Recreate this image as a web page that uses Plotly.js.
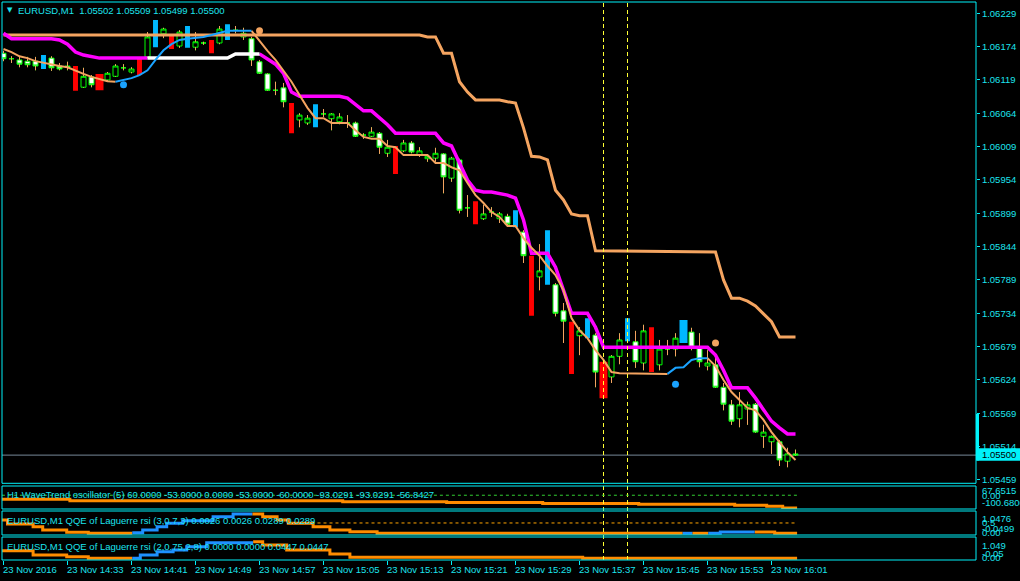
<!DOCTYPE html>
<html><head><meta charset="utf-8">
<script src="https://cdn.plot.ly/plotly-3.0.1.min.js"></script>
<style>html,body{margin:0;padding:0;background:#000;}#chart{width:1020px;height:581px;}</style>
</head><body><div id="chart"></div>
<script>
// ================= DATA =================
// minutes after 14:25 (bar index), EURUSD M1
const candleMin = [0,1,2,3,4,6,7,8,10,11,
 13,14,15,16,18,20,22,24,25,27,
 29,30,31,32,33,34,35,37,38,40,
 41,42,43,44,45,46,47,48,50,51,
 52,53,54,55,56,57,58,60,61,62,
 63,65,67,69,70,72,74,76,77,79,
 80,82,83,84,86,87,88,89,90,91,
 92,93,94,95,96,97,98,99];
const candleOpen = [1.06163,1.06154,1.06152,1.06150,1.06150,1.06155,1.06142,1.06142,1.06107,1.06124,
 1.06119,1.06125,1.06139,1.06132,1.06157,1.06195,1.06175,1.06173,1.06180,1.06180,
 1.06201,1.06190,1.06187,1.06149,1.06129,1.06102,1.06106,1.06053,1.06048,1.06063,
 1.06055,1.06050,1.06048,1.06048,1.06028,1.06026,1.06031,1.05998,1.06002,1.06015,
 1.05995,1.05989,1.05990,1.05997,1.05957,1.05987,1.05908,1.05890,1.05901,1.05890,
 1.05894,1.05868,1.05794,1.05781,1.05738,1.05697,1.05698,1.05629,1.05663,1.05687,
 1.05652,1.05649,1.05675,1.05675,1.05703,1.05677,1.05647,1.05649,1.05612,1.05583,
 1.05560,1.05576,1.05584,1.05531,1.05522,1.05522,1.05490,1.05502];
const candleHigh = [1.06167,1.06158,1.06157,1.06157,1.06157,1.06158,1.06147,1.06149,1.06139,1.06127,
 1.06132,1.06145,1.06145,1.06140,1.06198,1.06205,1.06201,1.06198,1.06182,1.06208,
 1.06208,1.06205,1.06190,1.06152,1.06130,1.06116,1.06114,1.06064,1.06061,1.06071,
 1.06064,1.06064,1.06061,1.06050,1.06031,1.06041,1.06033,1.06020,1.06020,1.06018,
 1.06008,1.05995,1.06007,1.05998,1.05992,1.05989,1.05929,1.05913,1.05909,1.05901,
 1.05898,1.05871,1.05848,1.05784,1.05751,1.05711,1.05701,1.05665,1.05701,1.05705,
 1.05715,1.05690,1.05690,1.05701,1.05710,1.05701,1.05673,1.05662,1.05619,1.05591,
 1.05604,1.05588,1.05586,1.05550,1.05532,1.05525,1.05512,1.05509];
const candleLow = [1.06150,1.06147,1.06140,1.06140,1.06135,1.06134,1.06135,1.06135,1.06106,1.06107,
 1.06116,1.06124,1.06135,1.06130,1.06155,1.06188,1.06172,1.06168,1.06177,1.06178,
 1.06196,1.06185,1.06142,1.06129,1.06101,1.06094,1.06074,1.06041,1.06045,1.06058,
 1.06036,1.06046,1.06040,1.06025,1.06022,1.06025,1.05997,1.05992,1.06000,1.05998,
 1.05992,1.05984,1.05984,1.05932,1.05951,1.05899,1.05893,1.05888,1.05893,1.05883,
 1.05878,1.05817,1.05772,1.05729,1.05685,1.05665,1.05612,1.05619,1.05650,1.05644,
 1.05640,1.05640,1.05665,1.05663,1.05673,1.05645,1.05640,1.05611,1.05574,1.05550,
 1.05546,1.05550,1.05537,1.05512,1.05502,1.05482,1.05480,1.05499];
const candleClose = [1.06154,1.06154,1.06145,1.06144,1.06142,1.06139,1.06137,1.06140,1.06125,1.06111,
 1.06130,1.06142,1.06139,1.06137,1.06190,1.06203,1.06198,1.06182,1.06180,1.06203,
 1.06201,1.06196,1.06152,1.06130,1.06102,1.06102,1.06083,1.06061,1.06056,1.06063,
 1.06063,1.06058,1.06048,1.06026,1.06028,1.06033,1.06008,1.06008,1.06015,1.06000,
 1.06002,1.05993,1.05998,1.05959,1.05990,1.05904,1.05908,1.05898,1.05901,1.05898,
 1.05881,1.05829,1.05804,1.05734,1.05721,1.05705,1.05637,1.05663,1.05690,1.05654,
 1.05705,1.05675,1.05675,1.05693,1.05677,1.05654,1.05652,1.05612,1.05584,1.05556,
 1.05583,1.05583,1.05538,1.05538,1.05531,1.05492,1.05502,1.05500];

// highlighted bars (red / blue blocks)
const redMin    = [9,12,17,21,26,36,49,59,66,71,75,81];
const redTop    = [1.06142,1.06129,1.06155,1.06193,1.06185,1.06081,1.06010,1.05919,1.05829,1.05720,1.05654,1.05711];
const redBottom = [1.06101,1.06102,1.06127,1.06170,1.06163,1.06031,1.05964,1.05881,1.05730,1.05634,1.05594,1.05637];
const blueMin    = [5,19,23,28,39,64,68,73,78,85];
const blueTop    = [1.06160,1.06218,1.06208,1.06211,1.06079,1.05904,1.05871,1.05726,1.05726,1.05723];
const blueBottom = [1.06137,1.06173,1.06172,1.06185,1.06041,1.05876,1.05781,1.05693,1.05688,1.05685];

// slow (thick sandy) line
const slowMin = [0,52,53,54,55,56,57,58,59,62,63,64,65,66,67,68,69,70,71,72,73,74,89,90,91,92,93,94,95,96,97,99];
const slowVal = [1.06193,1.06193,1.06190,1.06190,1.06163,1.06163,1.06116,1.06099,1.06086,1.06086,1.06083,1.06081,1.06040,1.05993,1.05992,1.05987,1.05937,1.05921,1.05898,1.05895,1.05895,1.05837,1.05835,1.05789,1.05759,1.05759,1.05754,1.05746,1.05733,1.05720,1.05695,1.05695];

// magenta / white trailing line
const magMin = [0,1,6,7,8,9,10,11,12,18,25,32,33,34,35,36,37,42,43,45,46,47,48,49,54,55,56,57,58,59,60,61,62,63,64,65,66,68,69,70,71,73,74,75,88,89,90,91,93,94,95,96,97,98,99];
const magVal = [1.06196,1.06187,1.06187,1.06185,1.06178,1.06165,1.06160,1.06157,1.06155,1.06155,null,1.06162,1.06153,1.06145,1.06130,1.06099,1.06092,1.06092,1.06089,1.06068,1.06068,1.06056,1.06045,1.06031,1.06031,1.06015,1.06010,1.05982,1.05954,1.05937,1.05934,1.05934,1.05931,1.05929,1.05924,1.05888,1.05833,1.05833,1.05810,1.05772,1.05734,1.05734,1.05711,1.05678,1.05678,1.05665,1.05640,1.05611,1.05611,1.05594,1.05574,1.05556,1.05545,1.05535,1.05535];
const whiteMin = [18,28,29,32];
const whiteVal = [1.06155,1.06155,1.06162,1.06162];

// fast line (sandy when falling, blue when rising)
const fastMin = [0,1,2,3,4,5,6,7,8,9,10,11,12,13,14,22,
 31,32,33,34,35,36,37,38,39,40,41,43,44,45,46,47,48,49,50,53,54,55,56,57,58,59,60,61,62,63,64,65,66,67,68,69,70,71,72,73,74,75,76,77,83,85,
 88,89,90,91,92,93,94,95,96,97,98,99];
const fastVal = [1.06170,1.06165,1.06158,1.06155,1.06150,1.06147,1.06145,1.06142,1.06140,1.06134,1.06129,1.06124,1.06121,1.06117,1.06116,null,
 1.06200,1.06183,1.06167,1.06152,1.06135,1.06116,1.06094,1.06073,1.06056,1.06056,1.06048,1.06048,1.06036,1.06025,1.06022,1.06022,1.06010,1.06008,1.05995,1.05995,1.05982,1.05982,1.05975,1.05970,1.05949,1.05929,1.05916,1.05901,1.05893,1.05878,1.05878,1.05858,1.05842,1.05829,1.05812,1.05797,1.05772,1.05726,1.05706,1.05693,1.05673,1.05657,1.05637,1.05635,1.05634,null,
 1.05660,1.05647,1.05624,1.05604,1.05591,1.05578,1.05574,1.05558,1.05538,1.05522,1.05505,1.05492];
const fastUpMin = [14,15,16,17,18,19,20,21,22,23,24,25,26,27,28,31,50,83,84,85,86,87,88];
const fastUpVal = [1.06116,1.06119,1.06122,1.06127,1.06135,1.06152,1.06168,1.06178,1.06185,1.06187,1.06188,1.06190,1.06193,1.06196,1.06200,1.06200,null,1.05634,1.05644,1.05645,1.05657,1.05660,1.05660];

// signal dots
const sellDotMin = [32,89];
const sellDotVal = [1.06200,1.05685];
const buyDotMin = [15,84];
const buyDotVal = [1.06111,1.05617];

// WaveTrend (H1) sub-window
const wtMin = [-0.2,8.3,42.4,55.4,67.4,79.4,91.4,95.4,97.4,99.2];
const wtVal = [-29.7,-40.0,-47.3,-53.0,-60.0,-66.3,-73.6,-81.0,-93.0,-93.0];
const wtZero = 0;

// QQE of Laguerre rsi (3,0.7,3)
const q1DownMin = [-0.2,0.5,3.7,4.9,7.9,10.6,16.1,16.1,31.1,32.4,34.2,35.6,38.7,40.8,43.3,46.7,84.9,84.9,86.1,88.1,88.1,93.9,96.4,99.2];
const q1DownVal = [0.636,0.453,0.330,0.179,0.074,0.028,0.028,null,0.910,0.787,0.636,0.485,0.330,0.179,0.101,0.028,0.028,null,0.028,0.028,null,0.087,0.028,0.028];
const q1UpMin = [16.1,17.4,19.2,20.4,22.4,26.2,28.7,31.1,31.1,84.9,86.1,86.1,88.1,89.6,93.9];
const q1UpVal = [0.055,0.179,0.330,0.485,0.604,0.787,0.910,0.910,null,0.028,0.028,null,0.028,0.087,0.087];
const q1Level = 0.5;

// QQE of Laguerre rsi (2,0.75,2,8)
const q2DownMin = [-0.2,3.7,7.9,10.6,16.1,16.1,31.2,32.4,35.4,40.8,43.3,72.4,99.2];
const q2DownVal = [0.394,0.189,0.108,0.031,0.031,null,0.824,0.667,0.428,0.237,0.079,0.031,0.031];
const q2UpMin = [16.1,17.1,19.2,21.2,22.9,25.4,31.2];
const q2UpVal = [0.031,0.189,0.347,0.428,0.586,0.777,0.777];

// markers / labels
const vLineMin = [75,78];
const priceTicks = [1.06229,1.06174,1.06119,1.06064,1.06009,1.05954,1.05899,1.05844,1.05789,1.05734,1.05679,1.05624,1.05569,1.05514,1.05459];
const timeTickMin = [0,8,16,24,32,40,48,56,64,72,80,88,96];
const timeTickText = ['23 Nov 2016','23 Nov 14:33','23 Nov 14:41','23 Nov 14:49','23 Nov 14:57','23 Nov 15:05','23 Nov 15:13','23 Nov 15:21','23 Nov 15:29','23 Nov 15:37','23 Nov 15:45','23 Nov 15:53','23 Nov 16:01'];
const headerText = 'EURUSD,M1\u00a0\u00a01.05502 1.05509 1.05499 1.05500';
const wtTitle = 'H1 WaveTrend oscillator (5) 60.0000 -53.0000 0.0000 -53.0000 -60.0000 -93.0291 -93.0291 -56.8427';
const q1Title = 'EURUSD,M1 QQE of Laguerre rsi (3,0.7,3) 0.0026 0.0026 0.0289 0.0289';
const q2Title = 'EURUSD,M1 QQE of Laguerre rsi (2,0.75,2,8) 0.0000 0.0000 0.0447 0.0447';
const wtLabels = ['67.6515','0.00','-100.6806'];
const q1Labels = ['1.0476','0.5','-0.0499','0.00'];
const q2Labels = ['1.049','-0.05','0.00'];
const wtRange = [-100.6806, 67.6515];
const q1Range = [-0.0499, 1.0476];
const q2Range = [-0.05, 1.049];

// ================= STYLE / LAYOUT =================
const CYAN = '#00F2FA';
const TXT = '#1CE4EE';
const SANDY = '#F4A460';
const FONT = '"Liberation Sans", Arial, sans-serif';
const L = 2, R = 976, T = 2, B = 560;           // plot area in pixels
const px2x = p => (p - L) / (R - L);
const py2y = p => (B - p) / (B - T);
const xRange = [-0.1875, 121.5625];
const yMainRange = [1.054535, 1.062476];

// wick segments built from the OHLC arrays
const wickX = [], wickY = [];
candleMin.forEach((m, i) => {
  const top = Math.max(candleOpen[i], candleClose[i]);
  const bot = Math.min(candleOpen[i], candleClose[i]);
  wickX.push(m, m, null, m, m, null);
  wickY.push(candleHigh[i], top, null, bot, candleLow[i], null);
});
const wide = new Set([12, 75, 85]);

const traces = [
  {type:'bar', x:redMin, base:redBottom, y:redTop.map((t,i)=>t-redBottom[i]),
   width:redMin.map(m=>wide.has(m)?1.0:0.62), marker:{color:'#FF0000', line:{width:0}}, hoverinfo:'skip'},
  {type:'bar', x:blueMin, base:blueBottom, y:blueTop.map((t,i)=>t-blueBottom[i]),
   width:blueMin.map(m=>wide.has(m)?1.0:0.62), marker:{color:'#00B8FF', line:{width:0}}, hoverinfo:'skip'},
  {type:'candlestick', x:candleMin, open:candleOpen, high:candleHigh, low:candleLow, close:candleClose,
   increasing:{line:{color:'#00FF00', width:1}, fillcolor:'#000000'},
   decreasing:{line:{color:'#00FF00', width:1}, fillcolor:'#FFFFFF'},
   whiskerwidth:0, hoverinfo:'skip'},
  {type:'scatter', mode:'lines', x:wickX, y:wickY, line:{color:SANDY, width:1}, hoverinfo:'skip'},
  {type:'scatter', mode:'lines', x:slowMin, y:slowVal, line:{color:SANDY, width:3}, hoverinfo:'skip'},
  {type:'scatter', mode:'lines', x:magMin, y:magVal, line:{color:'#FF00FF', width:3.5}, hoverinfo:'skip'},
  {type:'scatter', mode:'lines', x:whiteMin, y:whiteVal, line:{color:'#FFFFFF', width:3.5}, hoverinfo:'skip'},
  {type:'scatter', mode:'lines', x:fastMin, y:fastVal, line:{color:SANDY, width:2}, hoverinfo:'skip'},
  {type:'scatter', mode:'lines', x:fastUpMin, y:fastUpVal, line:{color:'#1AA3FF', width:2}, hoverinfo:'skip'},
  {type:'scatter', mode:'markers', x:sellDotMin, y:sellDotVal, marker:{color:SANDY, size:7}, hoverinfo:'skip'},
  {type:'scatter', mode:'markers', x:buyDotMin, y:buyDotVal, marker:{color:'#1AA3FF', size:7}, hoverinfo:'skip'},
  {type:'scatter', mode:'lines', x:wtMin, y:wtVal, yaxis:'y2', line:{color:'#FF8C00', width:3, shape:'hv'}, hoverinfo:'skip'},
  {type:'scatter', mode:'lines', x:q1DownMin, y:q1DownVal, yaxis:'y3', line:{color:'#FF8C00', width:3, shape:'hv'}, hoverinfo:'skip'},
  {type:'scatter', mode:'lines', x:q1UpMin, y:q1UpVal, yaxis:'y3', line:{color:'#1E90FF', width:3, shape:'hv'}, hoverinfo:'skip'},
  {type:'scatter', mode:'lines', x:q2DownMin, y:q2DownVal, yaxis:'y4', line:{color:'#FF8C00', width:3, shape:'hv'}, hoverinfo:'skip'},
  {type:'scatter', mode:'lines', x:q2UpMin, y:q2UpVal, yaxis:'y4', line:{color:'#1E90FF', width:3, shape:'hv'}, hoverinfo:'skip'}
];

const lastClose = candleClose[candleClose.length-1];
const shapes = [];
// bid line
shapes.push({type:'line', xref:'paper', x0:0, x1:1, yref:'y', y0:lastClose, y1:lastClose, line:{color:'#778899', width:1}, layer:'below'});
// vertical dashed lines
vLineMin.forEach(m => shapes.push({type:'line', xref:'x', x0:m, x1:m, yref:'paper', y0:0, y1:1, line:{color:'#FFFF33', width:1, dash:'4px,3px'}, layer:'above'}));
// level lines in sub windows
shapes.push({type:'line', xref:'x', x0:-0.2, x1:99.2, yref:'y2', y0:wtZero, y1:wtZero, line:{color:'#32CD32', width:1, dash:'3px,3px'}, layer:'above'});
shapes.push({type:'line', xref:'x', x0:38.5, x1:99.2, yref:'y3', y0:q1Level, y1:q1Level, line:{color:'#FFA500', width:1, dash:'3px,3px'}, layer:'above'});
// frames
['y','y2','y3','y4'].forEach(a => shapes.push({type:'rect', xref:'paper', x0:0, x1:1, yref:a+' domain', y0:0, y1:1, line:{color:CYAN, width:1}, fillcolor:'rgba(0,0,0,0)', layer:'above'}));
// bid marker on price scale
shapes.push({type:'rect', xref:'paper', x0:px2x(976), x1:px2x(979), yref:'paper', y0:py2y(460.5), y1:py2y(414), line:{width:0}, fillcolor:CYAN, layer:'above'});
shapes.push({type:'rect', xref:'paper', x0:px2x(976.5), x1:px2x(1021), yref:'paper', y0:py2y(460.8), y1:py2y(448.3), line:{width:0}, fillcolor:CYAN, layer:'above'});

const A = (text, px, py, o) => Object.assign({xref:'paper', yref:'paper', x:px2x(px), y:py2y(py), xanchor:'left', yanchor:'middle',
  text:text, showarrow:false, borderpad:0, font:{family:FONT, size:9.5, color:TXT}}, o||{});
const annotations = [
  A('\u25BC', 6, 10, {font:{family:'DejaVu Sans', size:7, color:TXT}}),
  A(headerText, 16.5, 10),
  A(wtTitle, 6, 494),
  A(q1Title, 6, 520.5),
  A(q2Title, 6, 546),
  A(lastClose.toFixed(5), 980.5, 455, {font:{family:FONT, size:9.5, color:'#000000'}})
];
[490.7, 495, 502.7].forEach((py,i)=>annotations.push(A(wtLabels[i], 981, py)));
[518.7, 522.8, 528, 532.5].forEach((py,i)=>annotations.push(A(q1Labels[i], 981, py)));
[545, 553.8, 557.2].forEach((py,i)=>annotations.push(A(q2Labels[i], 981, py)));
timeTickMin.forEach((m,i)=>annotations.push({xref:'x', yref:'paper', x:m, y:py2y(569.5), xanchor:'left', yanchor:'middle',
  xshift:-1.5, text:timeTickText[i], showarrow:false, borderpad:0, font:{family:FONT, size:9.5, color:TXT}}));

const noAx = {showgrid:false, zeroline:false, showticklabels:false, ticks:'', fixedrange:true, anchor:'x'};
const layout = {
  width:1020, height:581,
  margin:{l:L, r:1020-R, t:T, b:581-B, pad:0},
  paper_bgcolor:'#000000', plot_bgcolor:'#000000',
  showlegend:false, barmode:'overlay', boxgap:0.375, boxgroupgap:0,
  xaxis:{range:xRange, anchor:'y4', showgrid:false, zeroline:false, showticklabels:false,
         ticks:'outside', ticklen:4, tickwidth:1, tickcolor:CYAN, tickmode:'array', tickvals:timeTickMin,
         rangeslider:{visible:false}, fixedrange:true, showline:false},
  yaxis:{domain:[py2y(483.3),1], range:yMainRange, side:'right', anchor:'x', showgrid:false, zeroline:false,
         tickmode:'array', tickvals:priceTicks, ticktext:priceTicks.map(v=>v.toFixed(5)),
         ticks:'outside', ticklen:3, tickwidth:1, tickcolor:CYAN,
         tickfont:{family:FONT, size:9.5, color:TXT}, fixedrange:true, showline:false},
  yaxis2:Object.assign({domain:[py2y(509),py2y(486)], range:wtRange}, noAx),
  yaxis3:Object.assign({domain:[py2y(535),py2y(511)], range:q1Range}, noAx),
  yaxis4:Object.assign({domain:[0,py2y(537)], range:q2Range}, noAx),
  shapes:shapes, annotations:annotations
};
Plotly.newPlot('chart', traces, layout, {staticPlot:true, displayModeBar:false});
</script>
</body></html>
